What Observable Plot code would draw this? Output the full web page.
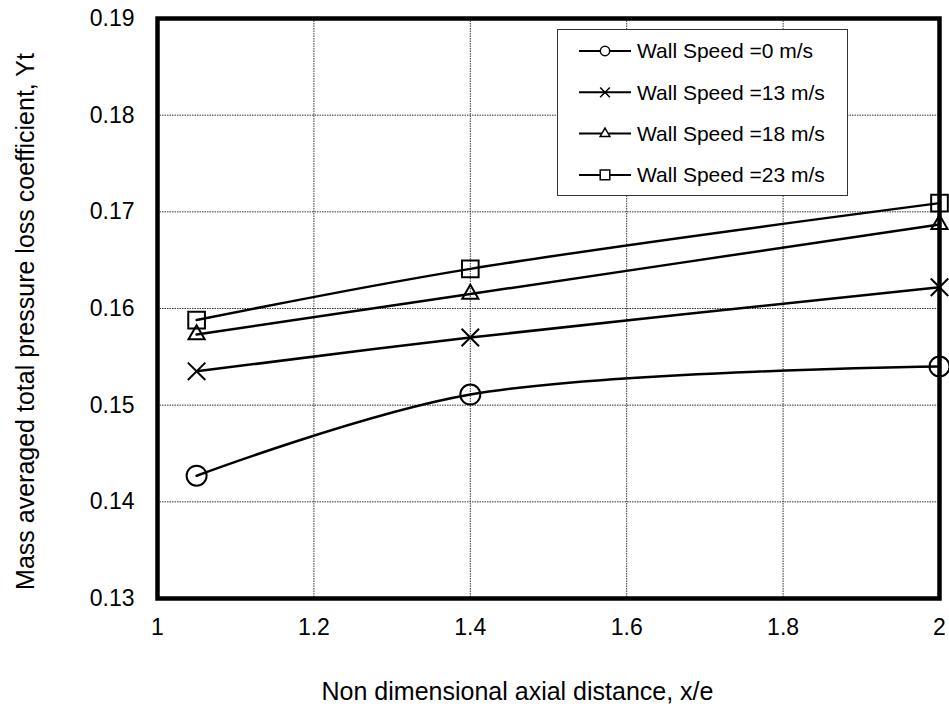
<!DOCTYPE html>
<html>
<head>
<meta charset="utf-8">
<script src="https://cdn.jsdelivr.net/npm/d3@7"></script>
<script src="https://cdn.jsdelivr.net/npm/@observablehq/plot@0.6"></script>
<style>
  html, body { margin: 0; padding: 0; background: #fff; }
  #wrap { position: relative; width: 949px; height: 708px; font-family: "Liberation Sans", Arial, sans-serif; }
  #legend { position: absolute; left: 557px; top: 29px; width: 291px; height: 167px; box-sizing: border-box; border: 1.5px solid #333; background: #fff; }
</style>
</head>
<body>
<div id="wrap"></div>
<script>
// ---- data ----
const xPositions = [1.05, 1.4, 2.0];
const seriesNames = ["Wall Speed =0 m/s", "Wall Speed =13 m/s", "Wall Speed =18 m/s", "Wall Speed =23 m/s"];
const seriesSymbols = ["circle", "times", "triangle", "square"];
const speed0  = [0.1427, 0.1511, 0.1540];
const speed13 = [0.1535, 0.1570, 0.1622];
const speed18 = [0.1573, 0.1615, 0.1687];
const speed23 = [0.1588, 0.1641, 0.1709];
const xTicks = [1, 1.2, 1.4, 1.6, 1.8, 2];
const yTicks = [0.13, 0.14, 0.15, 0.16, 0.17, 0.18, 0.19];
const xTitle = "Non dimensional axial distance, x/e";
const yTitle = "Mass averaged total pressure loss coefficient, Yt";

const allSeries = [speed0, speed13, speed18, speed23];
const rows = allSeries.map((vals, i) => vals.map((v, j) => ({x: xPositions[j], y: v, name: seriesNames[i]})));
const markerR = [10, 8, 6, 9.4];

const marks = [
  Plot.gridX(xTicks.slice(1, -1), {stroke: "#333", strokeOpacity: 1, strokeWidth: 1, strokeDasharray: "1.5,1"}),
  Plot.gridY(yTicks.slice(1, -1), {stroke: "#333", strokeOpacity: 1, strokeWidth: 1, strokeDasharray: "1.5,1"}),
  Plot.axisX({ticks: xTicks, tickSize: 0, tickPadding: 20, tickFormat: d => String(d), fontSize: 23, label: null}),
  Plot.axisY({ticks: yTicks, tickSize: 0, tickPadding: 23, tickFormat: d3.format(".2f"), fontSize: 23, label: null}),
];
rows.forEach((r, i) => {
  marks.push(Plot.line(r, {x: "x", y: "y", curve: "catmull-rom", stroke: "#000", strokeWidth: 2.5}));
});
rows.forEach((r, i) => {
  marks.push(Plot.dot(r, {x: "x", y: "y", symbol: () => seriesSymbols[i], r: markerR[i], stroke: "#000", strokeWidth: 2, fill: "none"}));
});
marks.push(Plot.frame({stroke: "#000", strokeWidth: 4.5}));
marks.push(Plot.text([xTitle], {frameAnchor: "bottom", dy: 93, dx: -31, fontSize: 25, fill: "#000", lineAnchor: "middle", textAnchor: "middle"}));
marks.push(Plot.text([yTitle], {frameAnchor: "left", rotate: -90, dx: -132, dy: 13, fontSize: 25, fill: "#000", lineAnchor: "middle", textAnchor: "middle"}));

const chart = Plot.plot({
  width: 949,
  height: 708,
  marginLeft: 157,
  marginRight: 10,
  marginTop: 18,
  marginBottom: 110,
  style: {fontFamily: '"Liberation Sans", Arial, sans-serif', color: "#000", background: "#fff", overflow: "visible"},
  x: {domain: [1, 2]},
  y: {domain: [0.13, 0.19]},
  symbol: {type: "identity"},
  marks
});
const wrap = document.getElementById("wrap");
wrap.appendChild(chart);

// ---- legend ----
const leg = document.createElement("div");
leg.id = "legend";
wrap.appendChild(leg);
const lsvg = d3.select(leg).append("svg").attr("width", 288).attr("height", 164)
  .style("position", "absolute").style("left", "0").style("top", "0")
  .style("font-family", '"Liberation Sans", Arial, sans-serif');
const symMap = {circle: d3.symbolCircle, times: d3.symbolTimes, triangle: d3.symbolTriangle, square: d3.symbolSquare};
const legR = [4.7, 4.5, 3.6, 5.4];
seriesNames.forEach((name, i) => {
  const g = lsvg.append("g").attr("transform", `translate(0,${21 + i * 41.3})`);
  g.append("line").attr("x1", 21).attr("x2", 73).attr("y1", 0).attr("y2", 0).attr("stroke", "#000").attr("stroke-width", 2);
  g.append("path").attr("d", d3.symbol(symMap[seriesSymbols[i]], legR[i] * legR[i] * Math.PI)())
    .attr("transform", "translate(47,0)").attr("fill", "#fff").attr("stroke", "#000").attr("stroke-width", 1.5);
  g.append("text").attr("x", 79).attr("y", 0).attr("dy", "0.35em").attr("font-size", 21).attr("fill", "#000").text(name);
});
</script>
</body>
</html>
